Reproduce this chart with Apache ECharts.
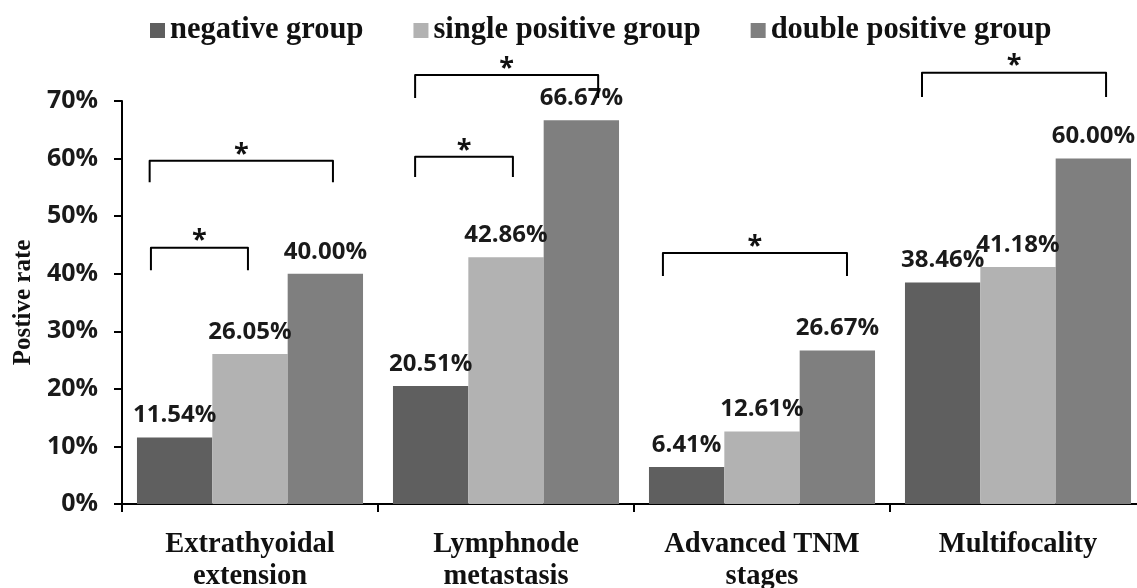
<!DOCTYPE html>
<html>
<head>
<meta charset="utf-8">
<script src="https://cdn.jsdelivr.net/npm/echarts@6/dist/echarts.min.js"></script>
<style>
html,body{margin:0;padding:0;background:#fff;}
#chart{width:1137px;height:588px;}
</style>
</head>
<body>
<div id="chart"></div>
<script>
// ---- data ----
const categories = ['Extrathyoidal\nextension', 'Lymphnode\nmetastasis', 'Advanced TNM\nstages', 'Multifocality'];
const seriesNames = ['negative group', 'single positive group', 'double positive group'];
const negativeGroup = [11.54, 20.51, 6.41, 38.46];
const singlePositiveGroup = [26.05, 42.86, 12.61, 41.18];
const doublePositiveGroup = [40.00, 66.67, 26.67, 60.00];
const yTicks = [0, 10, 20, 30, 40, 50, 60, 70];
// significance brackets: [category index, left offset (band fraction), right offset (band fraction), top value, leg-end value]
const brackets = [
  [0, -0.387, -0.008, 44.5, 40.6],
  [0, -0.392, 0.324, 59.6, 55.9],
  [1, -0.355, 0.027, 60.3, 56.8],
  [1, -0.355, 0.360, 74.5, 70.5],
  [2, -0.387, 0.332, 43.6, 39.6],
  [3, -0.375, 0.344, 74.9, 70.7]
];

const colors = ['#5f5f5f', '#b2b2b2', '#7f7f7f'];
const chart = echarts.init(document.getElementById('chart'));

const labelStyle = {
  show: true,
  position: 'top',
  distance: 10,
  fontFamily: '"Open Sans", sans-serif',
  fontWeight: 'bold',
  fontSize: 24,
  color: '#1a1a1a',
  formatter: p => p.value.toFixed(2) + '%'
};

function barSeries(name, data, color) {
  return {
    name: name,
    type: 'bar',
    data: data,
    barGap: '0%',
    barCategoryGap: '11.7%',
    itemStyle: { color: color },
    label: labelStyle,
    emphasis: { disabled: true }
  };
}

chart.setOption({
  animation: false,
  color: colors,
  legend: {
    data: seriesNames,
    left: 145,
    top: 10,
    itemWidth: 15,
    itemHeight: 15,
    itemGap: 50,
    icon: 'rect',
    textStyle: {
      fontFamily: '"Liberation Serif", serif',
      fontWeight: 'bold',
      fontSize: 30.5,
      color: '#111'
    }
  },
  grid: { left: 122, right: -9, top: 101, bottom: 84, containLabel: false, outerBoundsMode: 'none' },
  xAxis: {
    type: 'category',
    data: categories,
    axisLine: { lineStyle: { color: '#000', width: 2 } },
    axisTick: { show: true, length: 8, lineStyle: { color: '#000', width: 2 } },
    axisLabel: {
      interval: 0,
      margin: 25,
      fontFamily: '"Liberation Serif", serif',
      fontWeight: 'bold',
      fontSize: 28.5,
      lineHeight: 32,
      color: '#111'
    }
  },
  yAxis: {
    type: 'value',
    min: 0,
    max: 70,
    interval: 10,
    name: 'Postive rate',
    nameLocation: 'middle',
    nameRotate: 90,
    nameGap: 82,
    nameTextStyle: {
      fontFamily: '"Liberation Serif", serif',
      fontWeight: 'bold',
      fontSize: 25,
      color: '#111'
    },
    splitLine: { show: false },
    axisLine: { show: true, lineStyle: { color: '#000', width: 2 } },
    axisTick: { show: true, length: 8, lineStyle: { color: '#000', width: 2 } },
    axisLabel: {
      margin: 24,
      fontFamily: '"Open Sans", sans-serif',
      fontWeight: 'bold',
      fontSize: 25,
      color: '#1a1a1a',
      formatter: v => (yTicks.indexOf(v) >= 0 ? v + '%' : '')
    }
  },
  series: [
    barSeries(seriesNames[0], negativeGroup, colors[0]),
    barSeries(seriesNames[1], singlePositiveGroup, colors[1]),
    barSeries(seriesNames[2], doublePositiveGroup, colors[2]),
    {
      type: 'custom',
      name: 'brackets',
      data: brackets,
      encode: { x: 0, y: [3, 4] },
      clip: false,
      silent: true,
      z: 10,
      renderItem: function (params, api) {
        const c = api.value(0);
        const topPt = api.coord([c, api.value(3)]);
        const botPt = api.coord([c, api.value(4)]);
        const band = api.size([1, 0])[0];
        const xl = topPt[0] + api.value(1) * band;
        const xr = topPt[0] + api.value(2) * band;
        const yt = topPt[1];
        const yb = botPt[1];
        return {
          type: 'group',
          children: [
            {
              type: 'polyline',
              shape: { points: [[xl, yb], [xl, yt], [xr, yt], [xr, yb]] },
              style: { stroke: '#000', lineWidth: 2, fill: null, lineJoin: 'round' }
            },
            {
              type: 'text',
              style: {
                text: '*',
                x: (xl + xr) / 2,
                y: yt - 7,
                align: 'center',
                verticalAlign: 'middle',
                fontFamily: '"Open Sans", sans-serif',
                fontWeight: 'bold',
                fontSize: 27,
                fill: '#111'
              }
            }
          ]
        };
      }
    }
  ]
});
</script>
</body>
</html>
